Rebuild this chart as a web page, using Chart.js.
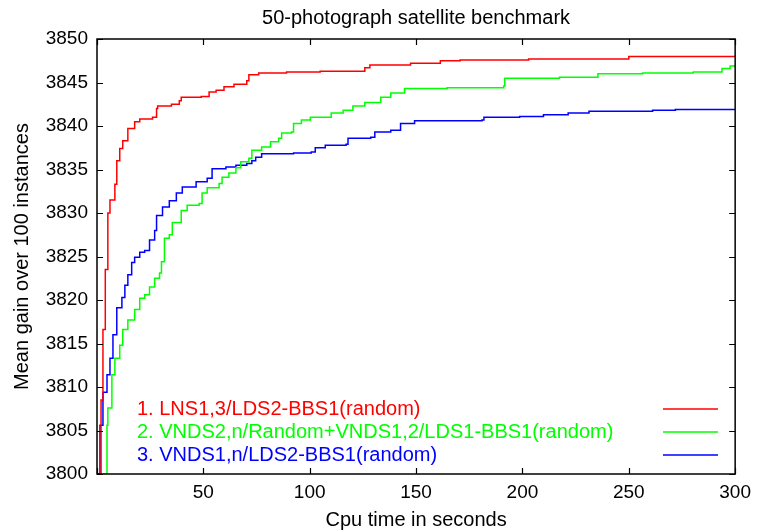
<!DOCTYPE html>
<html>
<head>
<meta charset="utf-8">
<script src="https://cdn.jsdelivr.net/npm/chart.js@4"></script>
<style>
  html, body { margin: 0; padding: 0; background: #fff; }
  #wrap { width: 758px; height: 532px; }
</style>
</head>
<body>
<div id="wrap"><canvas id="chart"></canvas></div>
<script>
"use strict";

// Titlar och etiketter
const chartTitle = "50-photograph satellite benchmark";
const xTitle = "Cpu time in seconds";
const yTitle = "Mean gain over 100 instances";
const seriesNames = [
    "1. LNS1,3/LDS2-BBS1(random)",
    "2. VNDS2,n/Random+VNDS1,2/LDS1-BBS1(random)",
    "3. VNDS1,n/LDS2-BBS1(random)"
];
const seriesColors = ["#ff0000", "#00ff00", "#0000ff"];

// Axlar
const xTicks = [0, 50, 100, 150, 200, 250, 300];
const yTicks = [3800, 3805, 3810, 3815, 3820, 3825, 3830, 3835, 3840, 3845, 3850];

// Serie 1 (röd)
const timeRed = [0.9, 1.9, 2.8, 3.9, 5.1, 6.1, 8.4, 9.3, 10.7, 12.1, 14.5, 17.7, 20.1, 26.1, 28.0, 28.5, 35.0, 38.7, 39.6, 49.0, 52.7, 56.0, 59.7, 64.4, 70.4, 71.4, 76.0, 89.1, 104.9, 125.9, 128.3, 147.4, 161.4, 170.7, 202.9, 250.0, 300];
const gainRed = [3800, 3808.5, 3816.6, 3823.5, 3830.0, 3831.5, 3833.3, 3836.0, 3837.4, 3838.3, 3839.7, 3840.5, 3840.8, 3841.0, 3842.0, 3842.3, 3842.5, 3842.9, 3843.3, 3843.4, 3843.9, 3844.1, 3844.5, 3844.8, 3845.2, 3845.9, 3846.1, 3846.2, 3846.3, 3846.7, 3847.0, 3847.2, 3847.5, 3847.6, 3847.7, 3848.0, 3848.1];

// Serie 2 (grön)
const timeGreen = [2.8, 4.7, 5.1, 7.0, 8.4, 10.7, 12.1, 14.5, 17.7, 20.1, 22.4, 24.7, 27.1, 29.4, 30.3, 31.7, 34.0, 35.4, 39.6, 42.4, 48.0, 49.4, 51.8, 57.4, 58.8, 62.0, 65.3, 67.6, 71.4, 72.8, 77.4, 81.6, 85.4, 86.8, 91.4, 92.4, 96.1, 100.3, 110.1, 115.7, 120.3, 125.9, 133.4, 138.1, 144.6, 164.6, 191.2, 191.7, 217.4, 235.5, 256.5, 280.3, 293.8, 297.6, 300];
const gainGreen = [3800, 3805.6, 3807.6, 3811.4, 3813.3, 3814.8, 3816.6, 3817.7, 3818.9, 3820.2, 3820.6, 3821.5, 3822.5, 3823.1, 3824.4, 3827.1, 3827.5, 3828.9, 3830.3, 3830.9, 3831.1, 3832.3, 3832.9, 3833.4, 3834.1, 3834.6, 3835.2, 3835.9, 3836.3, 3837.2, 3837.6, 3838.2, 3838.6, 3839.2, 3839.3, 3840.3, 3840.7, 3841.0, 3841.5, 3841.8, 3842.3, 3842.7, 3843.3, 3843.8, 3844.3, 3844.4, 3844.6, 3845.5, 3845.6, 3846.0, 3846.1, 3846.2, 3846.6, 3846.9, 3847.0];

// Serie 3 (blå)
const timeBlue = [0.5, 1.4, 2.8, 4.7, 6.1, 7.5, 9.3, 11.7, 13.1, 14.5, 16.3, 17.7, 20.1, 22.4, 24.7, 27.1, 28.0, 30.8, 34.0, 37.3, 40.1, 46.6, 51.8, 54.1, 60.6, 65.3, 70.4, 72.8, 74.6, 77.4, 92.4, 100.7, 102.6, 107.3, 117.1, 118.0, 128.7, 130.6, 138.1, 142.7, 149.3, 181.0, 181.9, 198.7, 209.9, 221.5, 231.3, 261.2, 271.9, 300];
const gainBlue = [3800, 3805.6, 3809.4, 3811.4, 3813.3, 3816.0, 3819.1, 3820.3, 3821.7, 3822.9, 3824.3, 3824.9, 3825.5, 3825.7, 3826.9, 3828.0, 3829.7, 3830.7, 3831.4, 3832.3, 3833.0, 3833.6, 3834.0, 3835.1, 3835.3, 3835.5, 3835.7, 3836.0, 3836.4, 3836.8, 3836.9, 3837.0, 3837.5, 3837.8, 3837.9, 3838.6, 3838.7, 3839.3, 3839.5, 3840.3, 3840.6, 3840.7, 3841.0, 3841.1, 3841.3, 3841.5, 3841.7, 3841.8, 3841.9, 3841.9];

// Bygg punkter
function toPoints(times, gains) {
    return times.map((t, i) => ({ x: t, y: gains[i] }));
}

const font = "Liberation Sans, Arial, sans-serif";
const tickSize = 19;
const labelSize = 20;

// Ram, inåtriktade tickar, titel och legend (gnuplot-stil)
const gnuplotFrame = {
    id: "gnuplotFrame",
    afterDraw(chart) {
        const ctx = chart.ctx;
        const a = chart.chartArea;
        const xs = chart.scales.x;
        const ys = chart.scales.y;
        ctx.save();
        ctx.strokeStyle = "#000";
        ctx.lineWidth = 1.5;
        ctx.strokeRect(a.left, a.top, a.right - a.left, a.bottom - a.top);

        ctx.lineWidth = 1.2;
        ctx.beginPath();
        xTicks.forEach(v => {
            const px = Math.round(xs.getPixelForValue(v)) + 0.5;
            ctx.moveTo(px, a.bottom); ctx.lineTo(px, a.bottom - 6);
            ctx.moveTo(px, a.top); ctx.lineTo(px, a.top + 6);
        });
        yTicks.forEach(v => {
            const py = Math.round(ys.getPixelForValue(v)) + 0.5;
            ctx.moveTo(a.left, py); ctx.lineTo(a.left + 6, py);
            ctx.moveTo(a.right, py); ctx.lineTo(a.right - 6, py);
        });
        ctx.stroke();

        // titel
        ctx.fillStyle = "#000";
        ctx.font = labelSize + "px " + font;
        ctx.textAlign = "center";
        ctx.textBaseline = "middle";
        ctx.fillText(chartTitle, (a.left + a.right) / 2, 18);

        // legend
        ctx.textAlign = "left";
        chart.data.datasets.forEach((ds, i) => {
            const y = 409 + i * 23;
            ctx.fillStyle = ds.borderColor;
            ctx.fillText(ds.label, 137, y);
            ctx.strokeStyle = ds.borderColor;
            ctx.lineWidth = 1.5;
            ctx.beginPath();
            ctx.moveTo(663, y);
            ctx.lineTo(718, y);
            ctx.stroke();
        });
        ctx.restore();
    }
};

const datasets = [
    [timeRed, gainRed],
    [timeGreen, gainGreen],
    [timeBlue, gainBlue]
].map((s, i) => ({
    label: seriesNames[i],
    data: toPoints(s[0], s[1]),
    borderColor: seriesColors[i],
    backgroundColor: seriesColors[i],
    borderWidth: 1.5,
    pointRadius: 0,
    stepped: "before",
    fill: false
}));

new Chart(document.getElementById("chart"), {
    type: "line",
    data: { datasets: datasets },
    options: {
        responsive: true,
        maintainAspectRatio: false,
        animation: false,
        layout: { padding: { top: 39, right: 18, left: 0, bottom: 0 } },
        plugins: {
            legend: { display: false },
            title: { display: false },
            tooltip: { enabled: false }
        },
        scales: {
            x: {
                type: "linear",
                min: 0,
                max: 300,
                grid: { display: false, drawTicks: false },
                border: { display: false },
                afterBuildTicks: s => { s.ticks = xTicks.map(v => ({ value: v })); },
                afterFit: s => { s.height = 58; },
                ticks: {
                    color: "#000",
                    padding: 7,
                    maxRotation: 0,
                    font: { family: font, size: tickSize },
                    callback: v => (v === 0 ? "" : String(v))
                },
                title: {
                    display: true,
                    text: xTitle,
                    color: "#000",
                    font: { family: font, size: labelSize },
                    padding: { top: 4, bottom: 0 }
                }
            },
            y: {
                type: "linear",
                min: 3800,
                max: 3850,
                grid: { display: false, drawTicks: false },
                border: { display: false },
                afterBuildTicks: s => { s.ticks = yTicks.map(v => ({ value: v })); },
                afterFit: s => { s.width = 97; },
                ticks: {
                    color: "#000",
                    padding: 9,
                    font: { family: font, size: tickSize },
                    callback: v => String(v)
                },
                title: {
                    display: true,
                    text: yTitle,
                    color: "#000",
                    font: { family: font, size: labelSize },
                    padding: { top: 10, bottom: 0 }
                }
            }
        }
    },
    plugins: [gnuplotFrame]
});
</script>
</body>
</html>
